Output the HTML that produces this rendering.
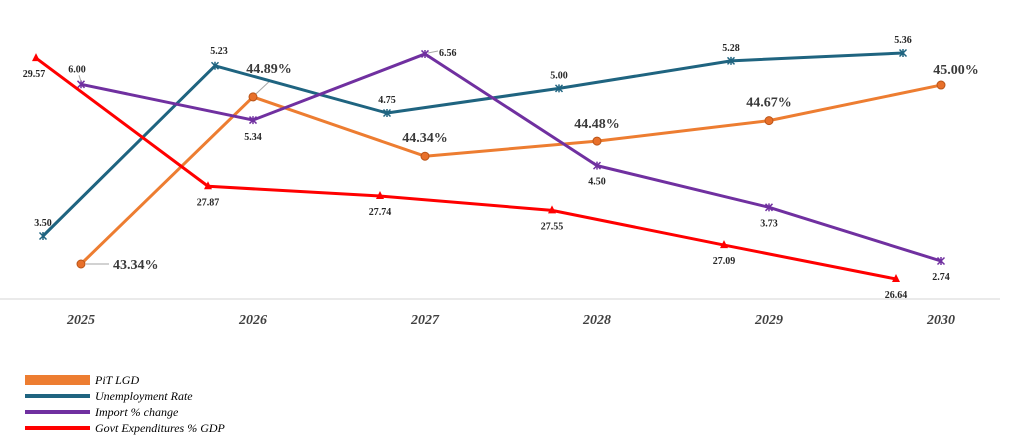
<!DOCTYPE html>
<html><head><meta charset="utf-8">
<style>
html,body{margin:0;padding:0;background:#fff;width:1024px;height:446px;overflow:hidden}
svg{display:block}
text{font-family:"Liberation Serif",serif}
</style></head>
<body>
<svg id="chart" width="1024" height="446">
<line x1="0" y1="299" x2="1000" y2="299" stroke="#e3e3e3" stroke-width="1.5"/>
<g id="xlabels"></g>
<g id="series"></g>
<g>
  <g><rect x="25" y="375" width="65" height="10" fill="#ED7D31"/><text x="95" y="384" font-size="12" font-style="italic">PiT LGD</text></g>
  <g><rect x="25" y="394" width="65" height="4" fill="#1F6480"/><text x="95" y="400" font-size="12" font-style="italic">Unemployment  Rate</text></g>
  <g><rect x="25" y="410" width="65" height="4" fill="#7030A0"/><text x="95" y="416" font-size="12" font-style="italic">Import % change</text></g>
  <g><rect x="25" y="426" width="65" height="4" fill="#FF0000"/><text x="95" y="432" font-size="12" font-style="italic">Govt Expenditures  % GDP</text></g>
</g>
</svg>
<script>
const categories = ["2025","2026","2027","2028","2029","2030"];
const pitLgd = [43.34,44.89,44.34,44.48,44.67,45.00];
const unemployment = [3.50,5.23,4.75,5.00,5.28,5.36];
const importChange = [6.00,5.34,6.56,4.50,3.73,2.74];
const govtExp = [29.57,27.87,27.74,27.55,27.09,26.64];

const NS="http://www.w3.org/2000/svg";
function xPos(i){return 81+i*172;}
function mk(tag,attrs,parent){const e=document.createElementNS(NS,tag);for(const k in attrs)e.setAttribute(k,attrs[k]);parent.appendChild(e);return e;}
const xl=document.getElementById('xlabels');
categories.forEach((c,i)=>{
  const t=mk('text',{x:xPos(i),y:324,'text-anchor':'middle','font-size':'14','font-weight':'bold','font-style':'italic',fill:'#404040'},xl);
  t.textContent=c;
  
  
});
const layer=document.getElementById('series');
// label offsets: [dx, dy, anchor, leader]
const cfg=[
 {name:'pit-lgd',data:pitLgd,color:'#ED7D31',dx:0,y0:43.34,py0:264,k:107.8,marker:'circle',fmt:v=>v.toFixed(2)+'%',big:true,
  lab:[[32,5,'start',[5,0,28,0]],[16,-24,'middle',[3,-3,18,-17]],[0,-14,'middle'],[0,-13,'middle'],[0,-14,'middle'],[15,-11,'middle']]},
 {name:'unemployment',data:unemployment,color:'#1F6480',dx:-38,y0:3.50,py0:236,k:98.4,marker:'x',fmt:v=>v.toFixed(2),
  lab:[[0,-10,'middle'],[4,-12,'middle'],[0,-10,'middle'],[0,-10,'middle'],[0,-10,'middle'],[0,-10,'middle']]},
 {name:'import',data:importChange,color:'#7030A0',dx:0,y0:2.74,py0:261,k:54.2,marker:'x',fmt:v=>v.toFixed(2),
  lab:[[-4,-12,'middle',[0,-3,-2,-9]],[0,20,'middle'],[14,2,'start',[3,-1,13,-3]],[0,19,'middle'],[0,19,'middle'],[0,19,'middle']]},
 {name:'govt-exp',data:govtExp,color:'#FF0000',dx:-45,y0:26.64,py0:279,k:75.4,marker:'tri',fmt:v=>v.toFixed(2),
  lab:[[-2,19,'middle'],[0,19,'middle'],[0,19,'middle'],[0,19,'middle'],[0,19,'middle'],[0,19,'middle']]}
];
cfg.forEach(s=>{
  const g=mk('g',{},layer);
  
  
  const pts=s.data.map((v,i)=>[xPos(i)+s.dx, s.py0-(v-s.y0)*s.k]);
  const pl=mk('polyline',{points:pts.map(p=>p.join(',')).join(' '),fill:'none',stroke:s.color,'stroke-width':3,'stroke-linejoin':'round'},g);
  
  
  pts.forEach((p,i)=>{
    let m;
    if(s.marker==='circle'){m=mk('circle',{cx:p[0],cy:p[1],r:4,fill:'#E8702A',stroke:'#B85418','stroke-width':1},g);}
    else if(s.marker==='tri'){m=mk('polygon',{points:`${p[0]},${p[1]-5} ${p[0]-4},${p[1]+3} ${p[0]+4},${p[1]+3}`,fill:s.color},g);}
    else {m=mk('path',{d:`M${p[0]-3.5},${p[1]-3.5}L${p[0]+3.5},${p[1]+3.5}M${p[0]+3.5},${p[1]-3.5}L${p[0]-3.5},${p[1]+3.5}M${p[0]},${p[1]-4}L${p[0]},${p[1]+4}`,stroke:s.color,'stroke-width':1.5},g);}
    
    
    const L=s.lab[i];
    if(L[3]){
      const ln=mk('line',{x1:p[0]+L[3][0],y1:p[1]+L[3][1],x2:p[0]+L[3][2],y2:p[1]+L[3][3],stroke:'#a6a6a6','stroke-width':1},g);
      
      
    }
    const t=mk('text',{x:p[0]+L[0],y:p[1]+L[1],'text-anchor':L[2],'font-size':s.big?'14':'10','font-weight':'bold',fill:s.big?'#3a3a3a':'#262626'},g);
    t.textContent=s.fmt(s.data[i]);
    
    
  });
});
</script>
</body></html>
